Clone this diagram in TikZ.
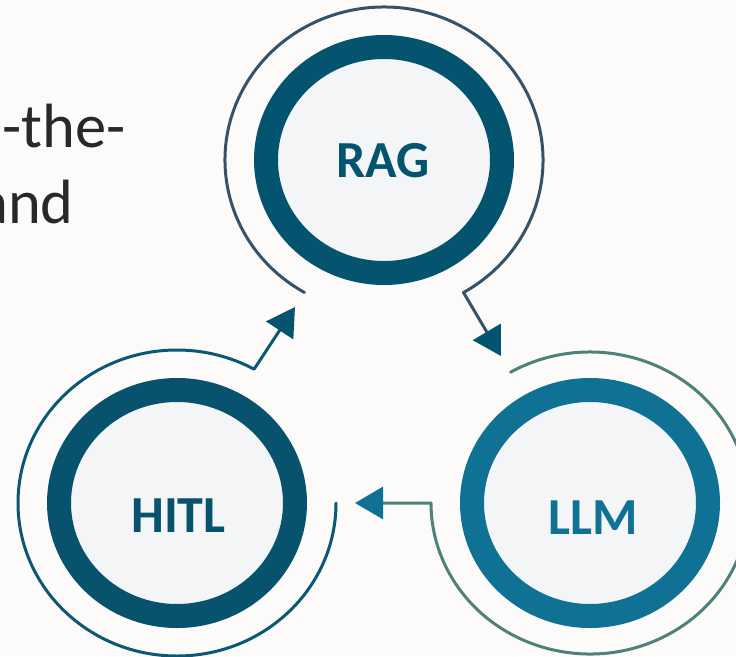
\documentclass[tikz,border=0pt]{standalone}
\usepackage{fontspec}
\setmainfont{Carlito}
\usetikzlibrary{shapes.geometric,arrows.meta,calc}
\definecolor{bg}{HTML}{FCFBFA}
\definecolor{inner}{HTML}{F4F5F6}
\definecolor{ragring}{HTML}{04546F}
\definecolor{ragarc}{HTML}{34536A}
\definecolor{hitlring}{HTML}{07526D}
\definecolor{hitlarc}{HTML}{0B5874}
\definecolor{llmring}{HTML}{0F7294}
\definecolor{llmarc}{HTML}{4F817B}
\definecolor{bodytext}{HTML}{2A2826}
\tikzset{
  ring/.style={shape=ellipse, draw=#1, fill=inner, line width=24pt,
    minimum width=236pt, minimum height=226pt, inner sep=0pt},
  lbl/.style={text=#1, font=\fontsize{52}{60}\selectfont\bfseries, inner sep=0pt, anchor=base},
  thinarc/.style={draw=#1, line width=3pt, line join=round, line cap=round},
  tipof/.style={-{Triangle[length=28pt,width=32pt,color=#1]}},
  para/.style={text=bodytext, font=\fontsize{62.5}{76}\selectfont, inner sep=0pt, anchor=base east}
}
\begin{document}
\begin{tikzpicture}[x=1pt,y=1pt]
\useasboundingbox (0,0) rectangle (736,-656);
\clip (0,0) rectangle (736,-656);
\fill[bg] (0,0) rectangle (736,-656);
% cut-off paragraph text
\node[para] (p1) at (126,-147) {-the-};
\node[para] (p2) at (74,-223) {and};
% rings
\node[ring=ragring] (rag) at (384,-160) {};
\node[ring=hitlring] (hitl) at (177,-503) {};
\node[ring=llmring] (llm) at (590,-503) {};
% labels
\node[lbl=ragring] (ragt) at (383,-177) {RAG};
\node[lbl=hitlring] (hitlt) at (178.5,-532) {HITL};
\node[lbl=llmring] (llmt) at (593,-534) {LLM};
% arrow tip coordinates
\coordinate (tipRL) at (501,-356);
\coordinate (tipHR) at (295,-307);
\coordinate (tipLH) at (355,-503);
% RAG -> LLM
\draw[thinarc=ragarc, tipof=ragring]
  ([shift={(240:159pt and 153pt)}]rag.center)
  arc[start angle=240, end angle=-60, x radius=159pt, y radius=153pt] -- (tipRL);
% HITL -> RAG
\draw[thinarc=hitlarc, tipof=hitlring]
  ([shift={(0:159pt and 153pt)}]hitl.center)
  arc[start angle=0, end angle=-299, x radius=159pt, y radius=153pt] -- (tipHR);
% LLM -> HITL
\draw[thinarc=llmarc, tipof=llmring]
  ([shift={(120:159pt and 151pt)}]llm.center)
  arc[start angle=120, end angle=-180, x radius=159pt, y radius=151pt] -- (tipLH);
\end{tikzpicture}
\end{document}
